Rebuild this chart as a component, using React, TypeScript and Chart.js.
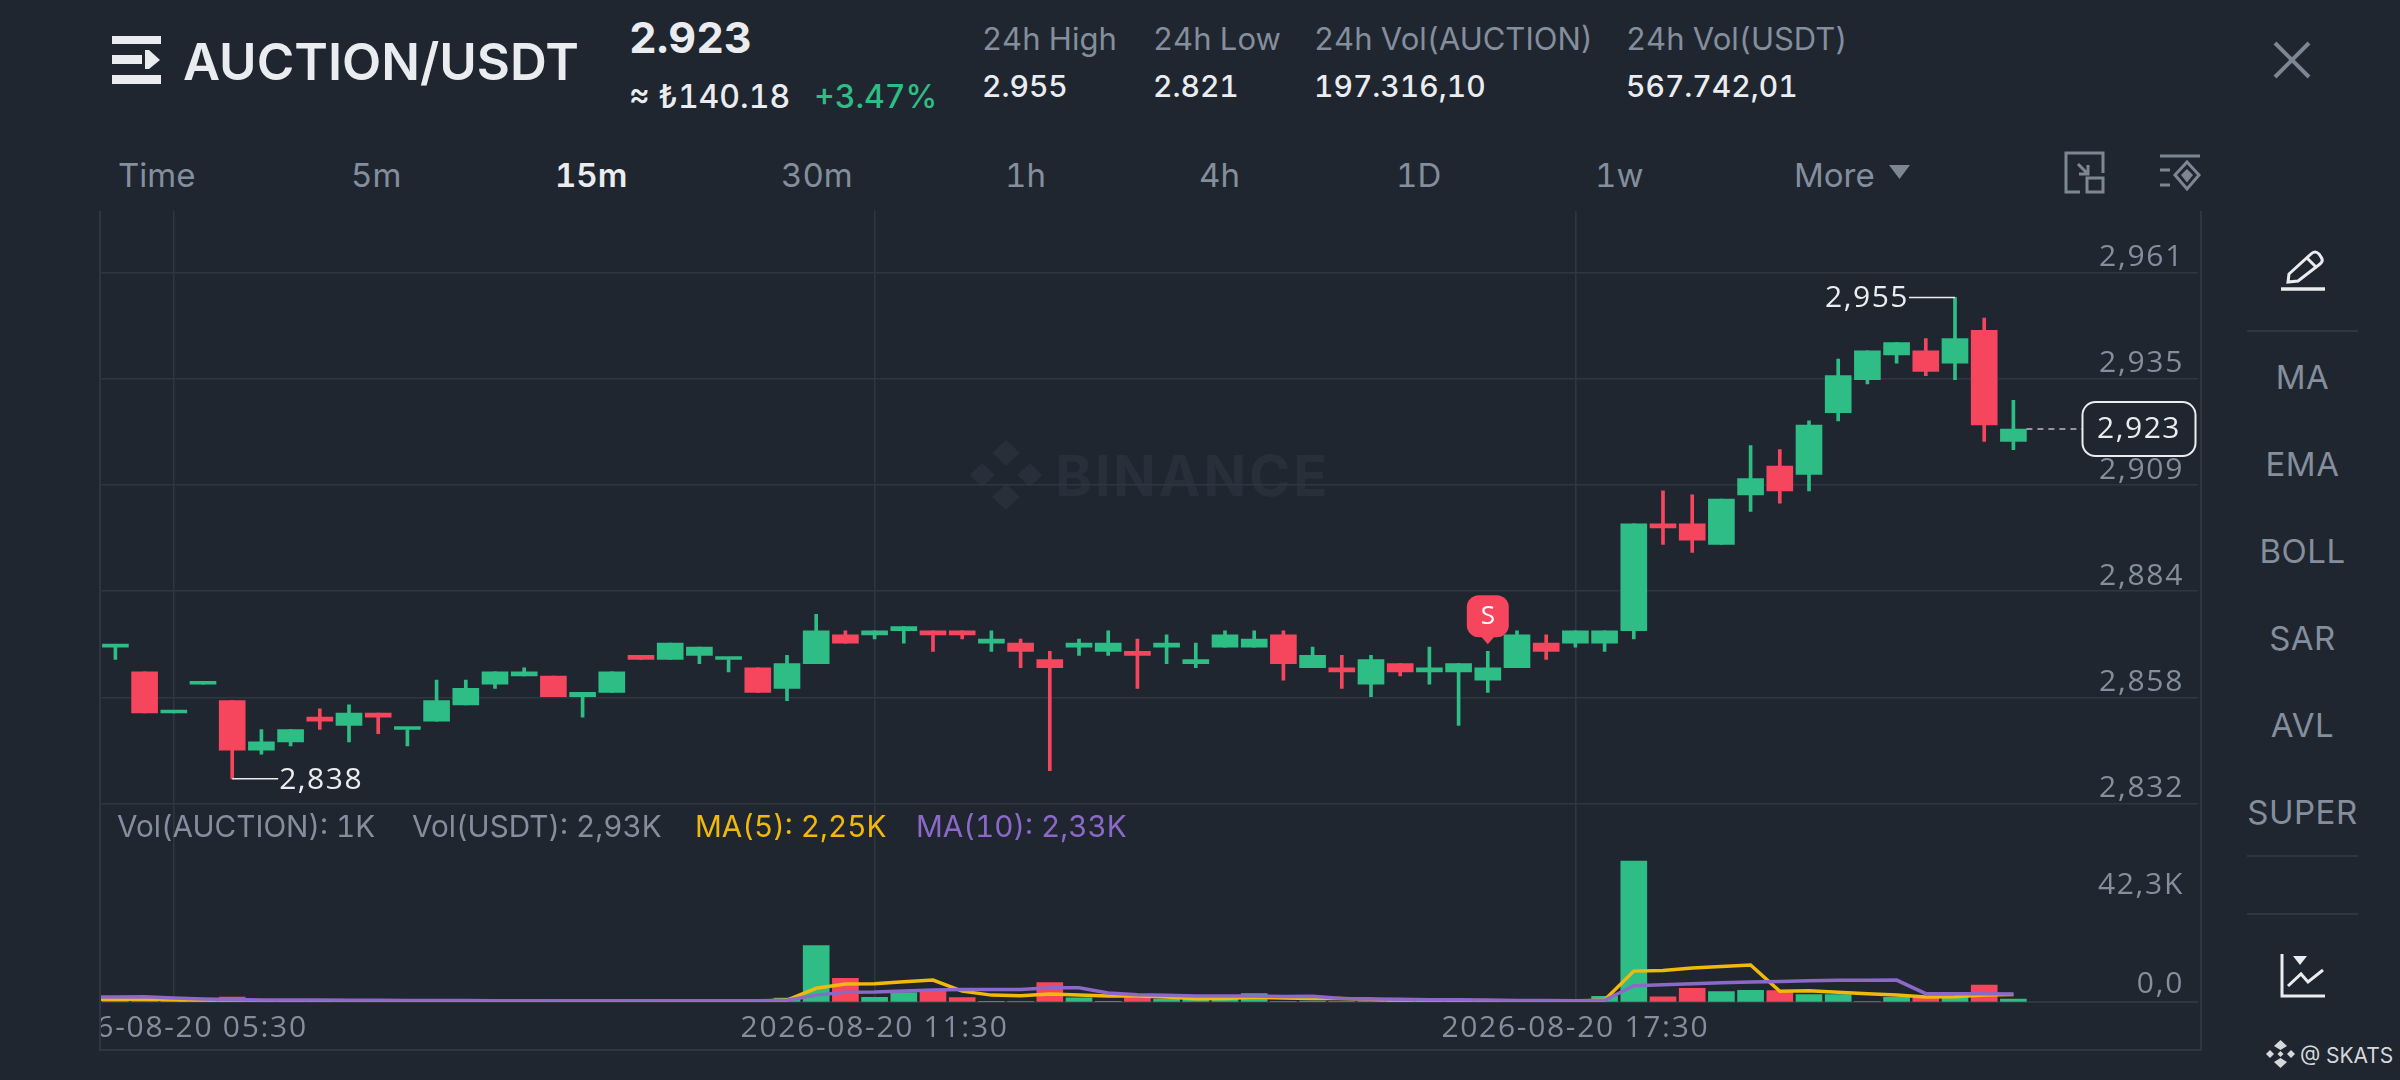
import React, { useEffect, useRef } from "react";
import { Chart, registerables } from "chart.js";

Chart.register(...registerables);

const opens = [2.870,2.864,2.854,2.861,2.857,2.845,2.847,2.853,2.851,2.854,2.850,2.852,2.856,2.861,2.863,2.863,2.858,2.859,2.868,2.867,2.868,2.867,2.865,2.860,2.866,2.873,2.873,2.874,2.874,2.874,2.871,2.871,2.867,2.870,2.869,2.869,2.870,2.866,2.870,2.870,2.873,2.865,2.865,2.861,2.866,2.864,2.864,2.862,2.865,2.871,2.871,2.871,2.874,2.900,2.900,2.895,2.907,2.914,2.912,2.927,2.935,2.941,2.942,2.939,2.947,2.920];
const closes = [2.870,2.854,2.854,2.861,2.845,2.847,2.850,2.852,2.854,2.853,2.850,2.857,2.860,2.864,2.864,2.858,2.859,2.864,2.867,2.871,2.870,2.867,2.859,2.866,2.874,2.871,2.874,2.875,2.873,2.873,2.872,2.869,2.865,2.871,2.871,2.868,2.871,2.867,2.873,2.872,2.866,2.868,2.864,2.867,2.864,2.865,2.866,2.865,2.873,2.869,2.874,2.874,2.900,2.899,2.896,2.906,2.911,2.908,2.924,2.936,2.942,2.944,2.937,2.945,2.924,2.923];
const highs = [2.870,2.864,2.854,2.861,2.857,2.850,2.850,2.855,2.856,2.854,2.850,2.862,2.862,2.864,2.865,2.863,2.859,2.864,2.868,2.871,2.870,2.867,2.865,2.868,2.878,2.874,2.874,2.875,2.874,2.874,2.874,2.872,2.869,2.872,2.874,2.872,2.873,2.871,2.874,2.874,2.874,2.870,2.868,2.868,2.866,2.870,2.866,2.869,2.874,2.873,2.874,2.874,2.900,2.908,2.907,2.906,2.919,2.918,2.925,2.940,2.942,2.944,2.945,2.955,2.950,2.930];
const lows = [2.867,2.854,2.854,2.861,2.838,2.844,2.846,2.850,2.847,2.849,2.846,2.852,2.856,2.860,2.863,2.858,2.853,2.859,2.867,2.867,2.866,2.864,2.859,2.857,2.866,2.871,2.872,2.871,2.869,2.872,2.869,2.865,2.840,2.868,2.868,2.860,2.866,2.865,2.870,2.870,2.862,2.865,2.860,2.858,2.863,2.861,2.851,2.859,2.865,2.867,2.870,2.869,2.872,2.895,2.893,2.895,2.903,2.905,2.908,2.925,2.934,2.939,2.936,2.935,2.920,2.918];
const volumes = [0.3,0.4,0.3,0.2,2.0,0.3,0.3,0.2,0.3,0.2,0.2,0.3,0.3,0.2,0.2,0.2,0.2,0.2,0.2,0.3,0.2,0.2,0.3,1.5,23.8,9.9,1.9,3.9,5.0,1.7,0.2,0.2,8.1,1.6,0.2,1.8,1.1,1.2,1.0,3.5,0.2,0.3,0.2,0.2,0.2,0.2,0.2,0.2,0.2,0.2,0.2,2.3,59.8,2.1,5.7,4.3,4.8,4.7,3.0,3.0,0.1,1.85,1.4,1.85,7.1,1.1];
const ma5 = [1.0,1.0,0.8,0.1,0.2,0.3,0.3,0.3,0.3,0.3,0.3,0.3,0.3,0.2,0.2,0.1,0.1,0.1,0.1,0.2,0.2,0.2,0.2,0.7,5.7,7.5,7.65,8.5,9.2,4.5,2.8,2.5,3.3,2.8,2.4,2.4,2.0,1.3,1.4,1.85,1.6,1.4,1.4,1.0,0.3,0.3,0.2,0.2,0.2,0.2,0.2,0.7,13.0,13.3,14.3,15.0,15.6,4.4,4.7,4.0,3.4,2.8,2.0,2.1,2.8,3.1];
const ma10 = [2.0,2.1,1.55,1.1,0.9,0.7,0.7,0.7,0.6,0.6,0.5,0.5,0.5,0.45,0.45,0.4,0.4,0.4,0.4,0.4,0.4,0.4,0.4,0.6,2.8,4.0,4.1,4.5,5.0,5.2,5.2,5.2,5.95,5.95,3.7,3.0,2.7,2.4,2.4,2.4,2.2,2.3,1.4,1.1,1.0,0.85,0.85,0.7,0.55,0.5,0.4,0.6,6.8,7.2,7.65,8.1,8.4,8.6,8.9,9.1,9.15,9.2,3.4,3.4,3.4,3.3];
// the averages run in from a candle that is already off the left edge
const ma5Before = 1.0;
const ma10Before = 2.0;

const priceTicks = [2.961, 2.9352, 2.9094, 2.8836, 2.8578, 2.832];
const volumeTicks = [0, 42.3];
const timeTickIndex = [2, 26, 50];
const timeTickLabels = ["2026-08-20 05:30", "2026-08-20 11:30", "2026-08-20 17:30"];
const intervals = ["Time", "5m", "15m", "30m", "1h", "4h", "1D", "1w", "More"];
const indicators = ["MA", "EMA", "BOLL", "SAR", "AVL", "SUPER"];

const BG = "#1f2630";
const GRID = "#2f3641";
const GREEN = "#2ebd85";
const RED = "#f6465d";
const WHITE = "#eaecef";
const MUTED = "#848e9c";
const YELLOW = "#f0b90b";
const PURPLE = "#8c68c8";
const FONT = "Inter, 'Noto Sans', sans-serif";
const CANVAS_FONT = "'Open Sans', sans-serif";

// page geometry of the plot
const LEFT = 101, RIGHT = 2198, TOP = 211, ZERO = 1001.7, BOTTOM = 1049;
const PX_PER_CANDLE = 29.2, FIRST_X = 115.4;
const PRICE_PER_PX = 0.000243, ANCHOR_PRICE = 2.961, ANCHOR_Y = 272.7;
const VOL_PER_PX = 0.425;

const annotate = {
  id: "annotate",
  beforeDraw(chart: any) {
    chart.ctx.letterSpacing = "1.7px";
  },
  afterDraw(chart: any) {
    const { ctx, scales } = chart;
    const x = scales.x, y = scales.y;
    const last = closes.length - 1;
    const hi = Math.max(...highs), lo = Math.min(...lows);
    const hiI = highs.indexOf(hi), loI = lows.indexOf(lo);
    ctx.save();
    ctx.font = `400 30px ${CANVAS_FONT}`;
    ctx.letterSpacing = "1.5px";
    ctx.textBaseline = "middle";
    ctx.strokeStyle = WHITE;
    ctx.fillStyle = WHITE;
    ctx.lineWidth = 1.5;
    // high
    ctx.beginPath();
    ctx.moveTo(x.getPixelForValue(hiI), y.getPixelForValue(hi));
    ctx.lineTo(x.getPixelForValue(hiI) - 46, y.getPixelForValue(hi));
    ctx.stroke();
    ctx.textAlign = "right";
    ctx.fillText(hi.toFixed(3).replace(".", ","), x.getPixelForValue(hiI) - 46, y.getPixelForValue(hi) + 1);
    // low
    ctx.beginPath();
    ctx.moveTo(x.getPixelForValue(loI), y.getPixelForValue(lo));
    ctx.lineTo(x.getPixelForValue(loI) + 46, y.getPixelForValue(lo));
    ctx.stroke();
    ctx.textAlign = "left";
    ctx.fillText(lo.toFixed(3).replace(".", ","), x.getPixelForValue(loI) + 47, y.getPixelForValue(lo) + 2);
    // last price line and box
    const py = y.getPixelForValue(closes[last]);
    const px = x.getPixelForValue(last) + 13;
    const boxL = 2082.5 - LEFT, boxW = 113, boxH = 54;
    ctx.setLineDash([6, 5]);
    ctx.strokeStyle = "#b9bdc4";
    ctx.beginPath();
    ctx.moveTo(px, py);
    ctx.lineTo(boxL, py);
    ctx.stroke();
    ctx.setLineDash([]);
    ctx.beginPath();
    ctx.roundRect(boxL, py - boxH / 2, boxW, boxH, 13);
    ctx.fillStyle = BG;
    ctx.fill();
    ctx.strokeStyle = WHITE;
    ctx.lineWidth = 2;
    ctx.stroke();
    ctx.fillStyle = WHITE;
    ctx.textAlign = "center";
    ctx.fillText(closes[last].toFixed(3).replace(".", ","), boxL + boxW / 2, py);
    // sell marker
    const sI = 47;
    const mx = x.getPixelForValue(sI);
    const tip = y.getPixelForValue(highs[sI]) - 7;
    ctx.fillStyle = RED;
    ctx.beginPath();
    ctx.roundRect(mx - 21, tip - 49, 42, 42, 12);
    ctx.fill();
    ctx.beginPath();
    ctx.moveTo(mx - 7, tip - 8);
    ctx.lineTo(mx + 7, tip - 8);
    ctx.lineTo(mx, tip);
    ctx.closePath();
    ctx.fill();
    ctx.fillStyle = "#ffffff";
    ctx.font = `400 26px ${CANVAS_FONT}`;
    ctx.letterSpacing = "0px";
    ctx.fillText("S", mx, tip - 28);
    ctx.restore();
  },
};

function T({ x, y, size, color, weight = 400, align = "left", children, spacing }: any) {
  const tx = align === "center" ? "-50%" : align === "right" ? "-100%" : "0";
  return (
    <div
      style={{
        position: "absolute",
        left: x,
        top: y,
        fontSize: size,
        color,
        fontWeight: weight,
        lineHeight: 1,
        whiteSpace: "nowrap",
        letterSpacing: spacing,
        fontVariantNumeric: "tabular-nums",
        transform: `translate(${tx}, -50%)`,
      }}
    >
      {children}
    </div>
  );
}

const tabX = [118, 351, 555, 781, 1005, 1199, 1396, 1595, 1794];

const flatAxis = (s: any) => {
  s.width = 0;
  s.paddingTop = 0;
  s.paddingBottom = 0;
};

export default function App() {
  const ref = useRef<HTMLCanvasElement>(null);

  useEffect(() => {
    const xs = opens.map((_, i) => i);
    const colors = xs.map((i) => (closes[i] >= opens[i] ? GREEN : RED));
    const chart = new Chart(ref.current as any, {
      type: "bar",
      data: {
        datasets: [
          {
            type: "line",
            label: "MA(10)",
            data: [{ x: -1, y: ma10Before }, ...xs.map((i) => ({ x: i, y: ma10[i] }))],
            yAxisID: "vol",
            borderColor: PURPLE,
            borderWidth: 3.5,
            pointRadius: 0,
            tension: 0,
            order: 0,
          },
          {
            type: "line",
            label: "MA(5)",
            data: [{ x: -1, y: ma5Before }, ...xs.map((i) => ({ x: i, y: ma5[i] }))],
            yAxisID: "vol",
            borderColor: YELLOW,
            borderWidth: 3.5,
            pointRadius: 0,
            tension: 0,
            order: 1,
          },
          {
            label: "Volume",
            data: xs.map((i) => ({ x: i, y: volumes[i] })),
            yAxisID: "vol",
            backgroundColor: colors,
            barThickness: 26,
            grouped: false,
            order: 2,
          },
          {
            label: "Body",
            data: xs.map((i) => ({ x: i, y: [opens[i], closes[i]] })),
            yAxisID: "y",
            backgroundColor: colors,
            barThickness: 26,
            minBarLength: 3,
            grouped: false,
            order: 3,
          },
          {
            label: "Wick",
            data: xs.map((i) => ({ x: i, y: [lows[i], highs[i]] })),
            yAxisID: "y",
            backgroundColor: colors,
            barThickness: 3,
            grouped: false,
            order: 4,
          },
        ] as any,
      },
      options: {
        animation: false,
        responsive: false,
        devicePixelRatio: 1,
        events: [],
        layout: { autoPadding: false, padding: 0 },
        plugins: { legend: { display: false }, tooltip: { enabled: false } },
        scales: {
          x: {
            type: "linear",
            offset: false,
            min: (LEFT - FIRST_X) / PX_PER_CANDLE,
            max: (RIGHT - FIRST_X) / PX_PER_CANDLE,
            afterBuildTicks: (s: any) => {
              s.ticks = timeTickIndex.map((value) => ({ value }));
            },
            afterFit: (s: any) => {
              s.height = BOTTOM - ZERO;
              s.paddingLeft = 0;
              s.paddingRight = 0;
            },
            grid: { color: GRID, lineWidth: 1.5, drawTicks: false, offset: false },
            border: { display: true, color: GRID, width: 2 },
            ticks: {
              autoSkip: false,
              maxRotation: 0,
              padding: 9,
              color: MUTED,
              font: { family: CANVAS_FONT, size: 30 },
              callback: (v: any) => timeTickLabels[timeTickIndex.indexOf(v)],
            },
          },
          y: {
            position: "right",
            min: ANCHOR_PRICE - (ZERO - ANCHOR_Y) * PRICE_PER_PX,
            max: ANCHOR_PRICE + (ANCHOR_Y - TOP) * PRICE_PER_PX,
            afterBuildTicks: (s: any) => {
              s.ticks = priceTicks.map((value) => ({ value }));
            },
            afterFit: flatAxis,
            grid: { color: GRID, lineWidth: 1.5, drawTicks: false },
            border: { display: false },
            ticks: {
              mirror: true,
              padding: -14,
              labelOffset: -15,
              color: MUTED,
              autoSkip: false,
              font: { family: CANVAS_FONT, size: 30 },
              callback: (v: any) => Number(v).toFixed(3).replace(".", ","),
            },
          },
          vol: {
            position: "right",
            min: 0,
            max: (ZERO - TOP) * VOL_PER_PX,
            afterBuildTicks: (s: any) => {
              s.ticks = volumeTicks.map((value) => ({ value }));
            },
            afterFit: flatAxis,
            grid: { display: false, drawTicks: false },
            border: { display: false },
            ticks: {
              mirror: true,
              padding: -14,
              labelOffset: -17,
              color: MUTED,
              autoSkip: false,
              font: { family: CANVAS_FONT, size: 30 },
              callback: (v: any) => (Number(v) === 0 ? "0,0" : `${Number(v).toFixed(1).replace(".", ",")}K`),
            },
          },
        },
      } as any,
      plugins: [annotate],
    });
    return () => chart.destroy();
  }, []);

  const icon = { stroke: "#7d8794", strokeWidth: 3, fill: "none" };

  return (
    <div
      style={{
        position: "fixed",
        left: 0,
        top: 0,
        width: 2400,
        height: 1080,
        background: BG,
        overflow: "hidden",
        fontFamily: FONT,
      }}
    >
      {/* header */}
      <svg style={{ position: "absolute", left: 112, top: 36 }} width={49} height={48} fill={WHITE}>
        <rect x={0} y={0} width={49} height={8} />
        <rect x={0} y={19} width={30} height={9} />
        <polygon points="33,14 37,14 48,24 37,33 33,33" />
        <rect x={0} y={39} width={49} height={9} />
      </svg>
      <T x={183} y={61} size={51} color={WHITE} weight={600}>AUCTION/USDT</T>
      <T x={629} y={37} size={43} color={WHITE} weight={700}>2.923</T>
      <T x={629} y={97} size={32} color={WHITE} weight={500}>≈ ₺140.18</T>
      <T x={814} y={97} size={32} color={GREEN} weight={500}>+3.47%</T>
      <T x={982} y={38} size={31} color={MUTED}>24h High</T>
      <T x={982} y={86} size={30} color={WHITE} weight={500}>2.955</T>
      <T x={1153} y={38} size={31} color={MUTED}>24h Low</T>
      <T x={1153} y={86} size={30} color={WHITE} weight={500}>2.821</T>
      <T x={1314} y={38} size={31} color={MUTED}>24h Vol(AUCTION)</T>
      <T x={1314} y={86} size={30} color={WHITE} weight={500}>197.316,10</T>
      <T x={1626} y={38} size={31} color={MUTED}>24h Vol(USDT)</T>
      <T x={1626} y={86} size={30} color={WHITE} weight={500}>567.742,01</T>
      <svg style={{ position: "absolute", left: 2272, top: 40 }} width={40} height={40} {...icon} strokeWidth={4}>
        <path d="M3 3 L37 37 M37 3 L3 37" />
      </svg>

      {/* interval tabs */}
      {intervals.map((t, i) => (
        <T key={t} x={tabX[i]} y={175} size={33} color={t === "15m" ? WHITE : MUTED} weight={t === "15m" ? 600 : 400}>
          {t}
        </T>
      ))}
      <svg style={{ position: "absolute", left: 1889, top: 165 }} width={22} height={15} fill="#7d8794">
        <polygon points="0,0 21,0 10.5,14" />
      </svg>
      <svg style={{ position: "absolute", left: 2064, top: 151 }} width={42} height={44} {...icon}>
        <path d="M16 2 H2 V41 H16 M14 2 H39 V22 M14 13 L24 23 M24 14 V23 H15" />
        <rect x={23} y={27} width={16} height={14} />
      </svg>
      <svg style={{ position: "absolute", left: 2158, top: 153 }} width={44} height={40} {...icon}>
        <path d="M2 3 H42 M2 17 H12 M2 32 H12" />
        <polygon points="29,9 41,22 29,36 17,22" />
        <polygon points="29,18 33,22 29,27 25,22" fill="#7d8794" />
      </svg>

      {/* watermark */}
      <svg style={{ position: "absolute", left: 970, top: 440 }} width={72} height={70} fill="#282f3a">
        <polygon points="36,0 50,13 36,26 22,13" />
        <polygon points="12,23 25,35 12,47 0,35" />
        <polygon points="60,23 72,35 60,47 47,35" />
        <polygon points="36,44 50,57 36,70 22,57" />
      </svg>
      <T x={1055} y={476} size={56} color="#282f3a" weight={700} spacing={2.8}>BINANCE</T>

      {/* plot frame */}
      <div
        style={{
          position: "absolute",
          left: LEFT - 2,
          top: TOP,
          width: RIGHT - LEFT + 2,
          height: BOTTOM - TOP,
          borderLeft: `2px solid ${GRID}`,
          borderRight: `2px solid ${GRID}`,
          borderBottom: `2px solid ${GRID}`,
        }}
      />
      <canvas
        ref={ref}
        width={RIGHT - LEFT}
        height={BOTTOM - TOP}
        style={{ position: "absolute", left: LEFT, top: TOP, width: RIGHT - LEFT, height: BOTTOM - TOP }}
      />

      {/* volume legend */}
      <T x={117} y={827} size={29.7} color={MUTED}>Vol(AUCTION): 1K</T>
      <T x={412} y={827} size={29.7} color={MUTED}>Vol(USDT): 2,93K</T>
      <T x={695} y={827} size={29.7} color={YELLOW}>MA(5): 2,25K</T>
      <T x={916} y={827} size={29.7} color={PURPLE}>MA(10): 2,33K</T>

      {/* side panel */}
      <svg style={{ position: "absolute", left: 2280, top: 248 }} width={46} height={44} fill="none" stroke={WHITE} strokeWidth={3}>
        <path d="M9 26 L31 6 Q35 2 39 6 L41 9 Q44 13 40 16 L18 33 L8 34 Z M27 10 L36 19" />
        <path d="M1 41 H45" strokeWidth={3.5} />
      </svg>
      <div style={{ position: "absolute", left: 2247, top: 330, width: 111, height: 2, background: GRID }} />
      {indicators.map((t, i) => (
        <T key={t} x={2302.5} y={377 + i * 87} size={33} color={MUTED} align="center" spacing={0.5}>{t}</T>
      ))}
      <div style={{ position: "absolute", left: 2247, top: 855, width: 111, height: 2, background: GRID }} />
      <div style={{ position: "absolute", left: 2247, top: 913, width: 111, height: 2, background: GRID }} />
      <svg style={{ position: "absolute", left: 2280, top: 953 }} width={46} height={46} fill="none" stroke={WHITE} strokeWidth={3}>
        <path d="M2 1 V43 H45" />
        <path d="M8 33 L21 21 L28 29 L43 17" />
        <polygon points="13,3 27,3 20,12" fill={WHITE} stroke="none" />
      </svg>
      <svg style={{ position: "absolute", left: 2266, top: 1040 }} width={29} height={28} fill="#d5d8dc">
        <polygon points="14.5,0 21,6 14.5,10 8,6" />
        <polygon points="4,10 8,14 4,18 0,14" />
        <polygon points="25,10 29,14 25,18 21,14" />
        <polygon points="14.5,11 17.5,14 14.5,17 11.5,14" />
        <polygon points="14.5,28 21,22 14.5,18 8,22" />
      </svg>
      <T x={2300} y={1055} size={21} color="#d5d8dc">@ SKATS</T>
    </div>
  );
}
